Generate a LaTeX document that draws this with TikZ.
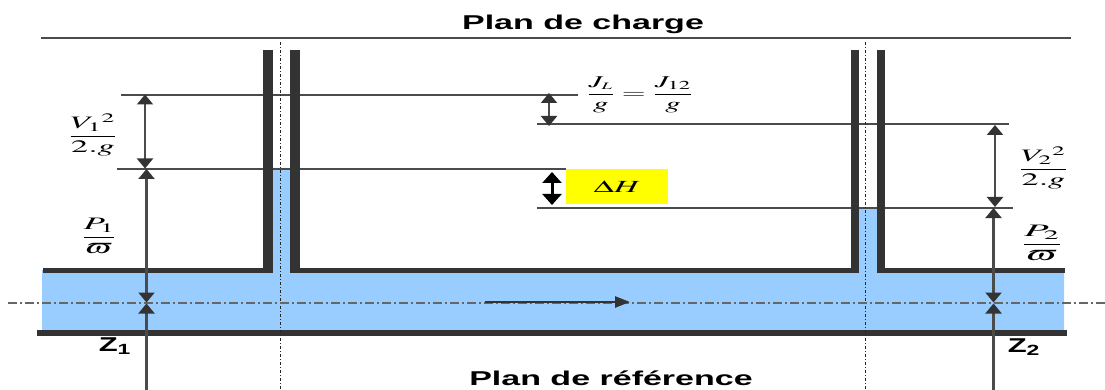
\documentclass[tikz,border=0pt]{standalone}
\usepackage{amsmath}
\usepackage{mathptmx}
\usepackage[no-math]{fontspec}
\setmainfont{Liberation Serif}
\newfontfamily\labelfont{Liberation Sans}
\usetikzlibrary{arrows.meta}
\definecolor{wall}{RGB}{51,51,51}
\definecolor{water}{RGB}{153,204,255}
\definecolor{thin}{RGB}{75,75,75}
\definecolor{hilite}{RGB}{255,255,0}
\newcommand{\planlabel}[1]{\scalebox{1.7}[1]{\fontsize{20}{20}\labelfont\bfseries #1}}
\newcommand{\zlabel}[2]{\scalebox{1.55}[1]{\fontsize{20}{20}\labelfont\bfseries #1\textsubscript{#2}}}
\newcommand{\fr}[3]{\scalebox{#3}[1]{\fontsize{17.5}{19}\selectfont$\dfrac{#1}{#2}$}}
\newcommand{\padw}{\rule{0pt}{11pt}\varpi}
\tikzset{
  x=1pt,y=-1pt,
  wallv/.style={line width=10pt,color=wall},
  wallvr/.style={line width=8pt,color=wall},
  wallh/.style={line width=5pt,color=wall},
  floorline/.style={line width=6pt,color=wall},
  level/.style={line width=1.2pt,color=thin},
  axisv/.style={line width=1.8pt,color=black!85,dash pattern=on 3pt off 2pt on 1pt off 2pt},
  axish/.style={line width=1.5pt,color=black!60,dash pattern=on 9pt off 3pt on 2pt off 3pt},
  dim/.style={line width=2.2pt,color=thin,{Triangle[length=10pt,width=16pt,color=wall]}-{Triangle[length=10pt,width=16pt,color=wall]}},
  dimb/.style={line width=3pt,color=black,{Triangle[length=11pt,width=19pt]}-{Triangle[length=11pt,width=19pt]}},
  dimopen/.style={line width=2.2pt,color=thin,{Triangle[length=10pt,width=16pt,color=wall]}-},
  flow/.style={line width=2.6pt,color=wall,-{Triangle[length=15pt,width=11pt]}},
  plain/.style={inner sep=0pt,outer sep=0pt}
}
\begin{document}
\begin{tikzpicture}
\useasboundingbox (0,0) rectangle (1105,390);
% water
\fill[water] (42,270) -- (272,270) -- (272,168) -- (291,168) -- (291,270) -- (859,270) -- (859,208) -- (878,208) -- (878,270) -- (1064,270) -- (1064,333) -- (42,333) -- cycle;
% coordinates
\coordinate (pcL) at (41,38); \coordinate (pcR) at (1071,38);
\coordinate (a1) at (121,95); \coordinate (a2) at (578,95);
\coordinate (b1) at (117,169); \coordinate (b2) at (566,169);
\coordinate (c1) at (537,124); \coordinate (c2) at (1009,124);
\coordinate (d1) at (537,208); \coordinate (d2) at (1013,208);
\draw[level] (pcL) -- (pcR);
\draw[level] (a1) -- (a2);
\draw[level] (b1) -- (b2);
\draw[level] (c1) -- (c2);
\draw[level] (d1) -- (d2);
% walls
\draw[wallh] (43,270.5) -- (273,270.5);
\draw[wallv] (268,50) -- (268,273);
\draw[wallv] (295,50) -- (295,272.5);
\draw[wallh] (290,270) -- (858.5,270);
\draw[wallvr] (854.5,50) -- (854.5,272.5);
\draw[wallvr] (880.5,50) -- (880.5,272.5);
\draw[wallh] (876.5,270) -- (1065,270);
\draw[floorline] (37,333) -- (1067,333);
% axes
\coordinate (va1) at (280.5,42); \coordinate (va2) at (280.5,390);
\coordinate (vb1) at (865.5,42); \coordinate (vb2) at (865.5,390);
\coordinate (ha) at (8,303); \coordinate (hb) at (1105,303);
\draw[axisv] (va1) -- (va2);
\draw[axisv] (vb1) -- (vb2);
\draw[axish] (ha) -- (hb);
% dimension nodes
\coordinate (v1t) at (145,94.5); \coordinate (v1b) at (145,168.5);
\coordinate (p1t) at (146.5,169); \coordinate (p1b) at (146.5,302.5);
\coordinate (z1t) at (146.5,303.5); \coordinate (z1b) at (146.5,390);
\coordinate (jt) at (549,93); \coordinate (jb) at (549,126);
\coordinate (ht) at (552,172); \coordinate (hb2) at (552,205);
\coordinate (v2t) at (995,125); \coordinate (v2b) at (995,207);
\coordinate (p2t) at (993.5,208); \coordinate (p2b) at (993.5,302.5);
\coordinate (z2t) at (993.5,303.5); \coordinate (z2b) at (993.5,390);
\draw[dim] (v1t) -- (v1b);
\draw[dim] (p1t) -- (p1b);
\draw[dimopen] (z1t) -- (z1b);
\draw[dim] (jt) -- (jb);
\draw[dimb] (ht) -- (hb2);
\draw[dim] (v2t) -- (v2b);
\draw[dim] (p2t) -- (p2b);
\draw[dimopen] (z2t) -- (z2b);
% flow arrow
\coordinate (f1) at (485,302); \coordinate (f2) at (630,302);
\draw[flow] (f1) -- (f2);
% labels
\node[plain,fill=hilite,minimum width=102pt,minimum height=35pt] (dh) at (617,186.5) {\scalebox{1.95}[1]{\fontsize{17}{17}\selectfont$\Delta H$}};
\node[plain,anchor=base] (plan1) at (583,30) {\planlabel{Plan de charge}};
\node[plain,anchor=base] (plan2) at (611,385) {\planlabel{Plan de référence}};
\node[plain,anchor=base] (z1) at (115,351) {\zlabel{Z}{1}};
\node[plain,anchor=base] (z2) at (1024,352) {\zlabel{Z}{2}};
\node[plain] (fv1) at (93,135) {\fr{V_1{}^2}{2.g}{1.95}};
\node[plain] (fp1) at (99,236) {\fr{P_1}{\padw}{2.0}};
\node[plain] (fv2) at (1043.5,168) {\fr{V_2{}^2}{2.g}{1.95}};
\node[plain] (fp2) at (1042,243) {\fr{P_2}{\padw}{2.3}};
\node[plain] (fj) at (640,95) {\scalebox{1.86}[1]{\fontsize{16.5}{18}\selectfont$\dfrac{J_{\scriptscriptstyle L}}{g}=\dfrac{J_{12}}{g}$}};
\end{tikzpicture}
\end{document}
